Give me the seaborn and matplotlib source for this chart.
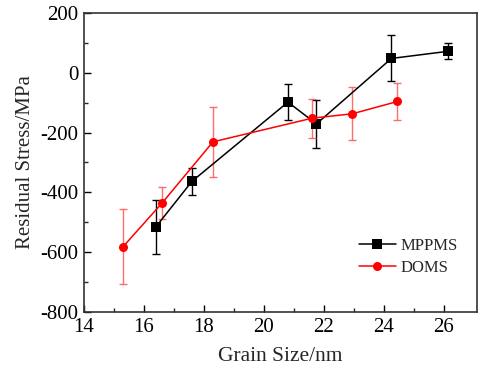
import numpy as np
import pandas as pd
import matplotlib
matplotlib.use("Agg")
import matplotlib.pyplot as plt
import seaborn as sns

# MPPMS data
mppms_size = [16.4, 17.6, 20.8, 21.75, 24.25, 26.15]
mppms_stress = [-515, -363, -98, -171, 48, 72]
mppms_err = [90, 46, 60, 79, 77, 26]

# DOMS data
doms_size = [15.3, 16.6, 18.3, 21.6, 22.95, 24.45]
doms_stress = [-582, -436, -231, -152, -137, -96]
doms_err = [125, 54, 116, 65, 88, 62]

sns.set_style("white")
plt.rcParams['font.family'] = ['Liberation Serif', 'DejaVu Serif']
plt.rcParams['axes.unicode_minus'] = False
plt.rcParams['xtick.direction'] = 'in'
plt.rcParams['ytick.direction'] = 'in'

df = pd.concat([
    pd.DataFrame({'size': mppms_size, 'stress': mppms_stress, 'series': 'MPPMS'}),
    pd.DataFrame({'size': doms_size, 'stress': doms_stress, 'series': 'DOMS'}),
])

fig = plt.figure(figsize=(4.78, 3.69), dpi=100)
ax = fig.add_axes([0.1757, 0.1545, 0.822, 0.8103])

# error bars
ax.errorbar(mppms_size, mppms_stress, yerr=mppms_err, fmt='none', ecolor='black',
            elinewidth=1, capsize=3, capthick=1, zorder=2)
ax.errorbar(doms_size, doms_stress, yerr=doms_err, fmt='none', ecolor='#ff5555',
            elinewidth=1, capsize=3, capthick=1, zorder=2, alpha=0.85)

sns.lineplot(data=df, x='size', y='stress', hue='series', style='series',
             palette={'MPPMS': 'black', 'DOMS': 'red'},
             markers={'MPPMS': 's', 'DOMS': 'o'}, dashes=False, sort=False,
             markersize=6.5, markeredgewidth=0, linewidth=1.1, ax=ax, zorder=3)

ax.set_xlim(14, 27.1)
ax.set_ylim(-800, 200)
ax.set_xticks([14, 16, 18, 20, 22, 24, 26])
ax.set_xticks(np.arange(15, 27, 2), minor=True)
ax.set_yticks(np.arange(-800, 201, 200))
ax.set_yticks(np.arange(-700, 200, 200), minor=True)
ax.tick_params(which='major', length=5, width=1, labelsize=15, colors='black',
               bottom=True, left=True, top=False, right=False)
ax.tick_params(which='minor', length=3, width=1, bottom=True, left=True,
               top=False, right=False)
ax.tick_params(axis='x', pad=4.5)
ax.tick_params(axis='y', pad=4)
for s in ax.spines.values():
    s.set_color('#333333')
    s.set_linewidth(1.2)

ax.set_xlabel('Grain Size/nm', fontsize=15.5, labelpad=7)
ax.set_ylabel('Residual Stress/MPa', fontsize=15, labelpad=4)

leg = ax.legend(loc='lower right', bbox_to_anchor=(0.99, 0.07), frameon=False,
                fontsize=12, handlelength=2.2, handletextpad=0.3, labelspacing=0.35)
leg.set_title(None)

fig.savefig('out.png', dpi=100)
